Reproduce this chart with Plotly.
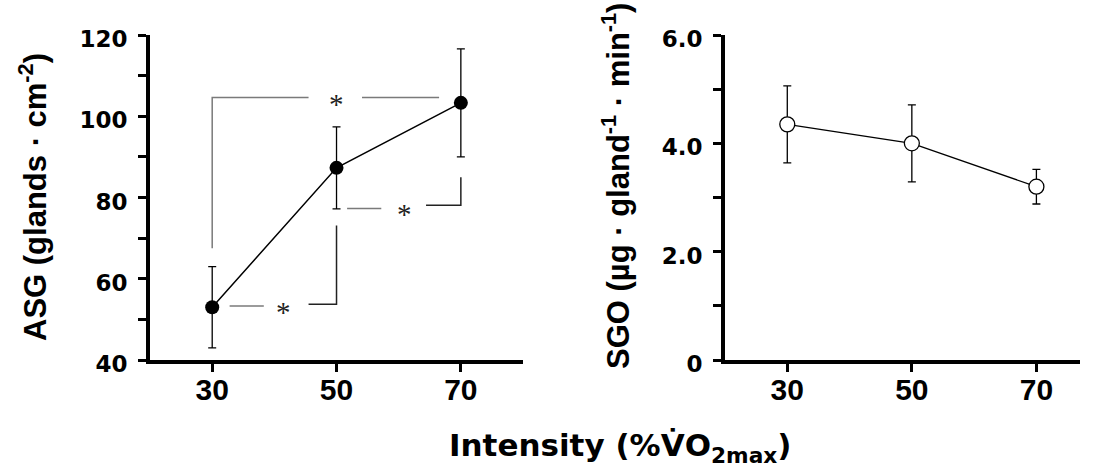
import plotly.graph_objects as go

# ---------------- data ----------------
intensity = [30, 50, 70]
x_ticks = [30, 50, 70]
x_ticklabels = ["30", "50", "70"]

asg_mean = [53.0, 87.3, 103.3]
asg_err = [10.0, 10.1, 13.3]
asg_ticks = [40, 60, 80, 100, 120]
asg_ticklabels = ["40", "60", "80", "100", "120"]

sgo_mean = [4.35, 4.0, 3.2]
sgo_err = [0.71, 0.71, 0.32]
sgo_ticks = [0, 2, 4, 6]
sgo_ticklabels = ["0", "2.0", "4.0", "6.0"]

# significance brackets (data coordinates): gray part, dark part, star position
bracket_gray_x = [[30, 30, 45.5, None, 54.1, 66.5], [32.8, 38.3], [51.7, 57.2]]
bracket_gray_y = [[67.5, 104.6, 104.6, None, 104.6, 104.6], [53.3, 53.3], [77.3, 77.3]]
bracket_dark_x = [[], [45.5, 50, 50], [64.4, 70, 70]]
bracket_dark_y = [[], [53.7, 53.7, 73.1], [78.1, 78.1, 85.0]]
star_x = [50, 41.5, 60.9]
star_y = [104.6, 53.3, 77.3]

# ---------------- figure ----------------
fig = go.Figure()
YTICKFONT = dict(family="DejaVu Sans", size=23, color="black", weight="bold")
XTICKFONT = dict(family="Liberation Sans", size=30, color="black", weight="bold")

for gx, gy in zip(bracket_gray_x, bracket_gray_y):
    fig.add_trace(go.Scatter(x=gx, y=gy, mode="lines", line=dict(color="#7a7a7a", width=1.5),
                             hoverinfo="skip", showlegend=False, xaxis="x", yaxis="y"))
for dx, dy in zip(bracket_dark_x, bracket_dark_y):
    if dx:
        fig.add_trace(go.Scatter(x=dx, y=dy, mode="lines", line=dict(color="#222222", width=1.5),
                                 hoverinfo="skip", showlegend=False, xaxis="x", yaxis="y"))

fig.add_trace(go.Scatter(
    x=intensity, y=asg_mean, mode="lines+markers",
    line=dict(color="black", width=1.5),
    marker=dict(color="black", size=14),
    error_y=dict(type="data", array=asg_err, visible=True, color="black", thickness=1.3, width=4),
    showlegend=False, xaxis="x", yaxis="y"))

fig.add_trace(go.Scatter(
    x=intensity, y=sgo_mean, mode="lines+markers",
    line=dict(color="black", width=1.3),
    marker=dict(color="white", size=15, line=dict(color="black", width=1.3)),
    error_y=dict(type="data", array=sgo_err, visible=True, color="black", thickness=1.3, width=4),
    showlegend=False, xaxis="x2", yaxis="y2"))

for sx, sy in zip(star_x, star_y):
    fig.add_annotation(x=sx, y=sy, xref="x", yref="y", text="*", showarrow=False,
                       font=dict(family="Liberation Serif", size=29, color="#222222"),
                       yanchor="middle", xanchor="center", yshift=-6)

axis_common = dict(showline=True, linewidth=4, linecolor="black", ticks="outside",
                   ticklen=8, tickwidth=3, tickcolor="black", showgrid=False,
                   zeroline=False, automargin=False)

fig.update_layout(
    width=1096, height=473,
    margin=dict(l=0, r=0, t=0, b=0, pad=0, autoexpand=False),
    paper_bgcolor="white", plot_bgcolor="white",
    xaxis=dict(domain=[0.1369, 0.4772], range=[20, 80], tickvals=x_ticks,
               ticktext=x_ticklabels, anchor="y", tickfont=XTICKFONT,
               ticklabelstandoff=-8, **axis_common),
    yaxis=dict(domain=[0.2389, 0.926], range=[40, 120], tickvals=asg_ticks,
               ticktext=asg_ticklabels, anchor="x", tickfont=YTICKFONT,
               ticklabelstandoff=6, ticklabelshift=4,
               minor=dict(dtick=10, ticks="outside", ticklen=8, tickwidth=3, tickcolor="black"),
               **axis_common),
    xaxis2=dict(domain=[0.6615, 0.9854], range=[20, 77], tickvals=x_ticks,
                ticktext=x_ticklabels, anchor="y2", tickfont=XTICKFONT,
                ticklabelstandoff=-8, **axis_common),
    yaxis2=dict(domain=[0.2389, 0.926], range=[0, 6], tickvals=sgo_ticks,
                ticktext=sgo_ticklabels, anchor="x2", tickfont=YTICKFONT,
                ticklabelstandoff=6, ticklabelshift=4,
                minor=dict(dtick=1, ticks="outside", ticklen=8, tickwidth=3, tickcolor="black"),
                **axis_common),
)

TITLEFONT = dict(family="Liberation Sans", size=31, color="black", weight="bold")
fig.add_annotation(x=33 / 1096, y=(473 - 197) / 473, xref="paper", yref="paper",
                   text="ASG (glands · cm<sup>-2</sup>)", textangle=-90, showarrow=False,
                   font=TITLEFONT, xanchor="center", yanchor="middle")
fig.add_annotation(x=616 / 1096, y=(473 - 186) / 473, xref="paper", yref="paper",
                   text="SGO (µg · gland<sup>-1</sup> · min<sup>-1</sup>)", textangle=-90,
                   showarrow=False, font=TITLEFONT, xanchor="center", yanchor="middle")
fig.add_annotation(x=620 / 1096, y=(473 - 447) / 473, xref="paper", yref="paper",
                   text="Intensity (%V\u0307O<sub>2max</sub>)", showarrow=False,
                   font=dict(family="DejaVu Sans", size=31, color="black", weight="bold"),
                   xanchor="center", yanchor="middle")

fig.write_html("out.html", config={"displayModeBar": False},
               post_script="document.body.style.margin='0';")
